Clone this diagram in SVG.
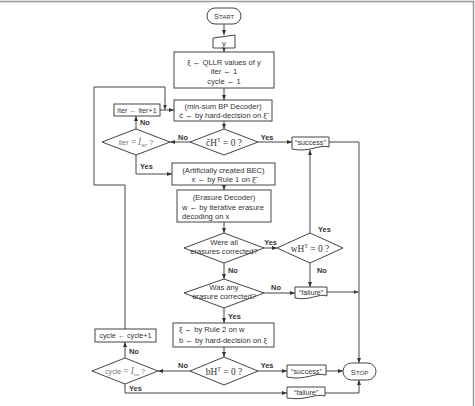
<svg xmlns="http://www.w3.org/2000/svg" width="475" height="406" viewBox="0 0 475 406">
<style>
.n{fill:#fff;stroke:#444;stroke-width:1}
.t{font-family:"Liberation Sans","DejaVu Sans",sans-serif;font-size:7.6px;fill:#333}
.s{font-size:7.2px}
.c{text-anchor:middle}
.m{font-family:"Liberation Serif","DejaVu Serif",serif;font-size:9.4px;fill:#333}
.l{font-family:"Liberation Sans","DejaVu Sans",sans-serif;font-size:7.4px;font-weight:bold;fill:#333}
.e{fill:none;stroke:#444;stroke-width:1}
.g{fill:#777}
</style>
<defs>
<marker id="a" viewBox="0 0 5 4" refX="5" refY="2" markerWidth="5" markerHeight="4" orient="auto" markerUnits="userSpaceOnUse"><path d="M0,0 L5,2 L0,4 Z" fill="#333"/></marker>
</defs>
<path d="M0,1.5 H473.5 V406" fill="none" stroke="#999" stroke-width="1.5"/>

<g id="connectors">
<path class="e" d="M224,24 V35" marker-end="url(#a)"/>
<path class="e" d="M224,48 V52" marker-end="url(#a)"/>
<path class="e" d="M224,88 V100" marker-end="url(#a)"/>
<path class="e" d="M224,121 V129" marker-end="url(#a)"/>
<path class="e" d="M190,142 H170" marker-end="url(#a)"/>
<path class="e" d="M258,142 H292" marker-end="url(#a)"/>
<path class="e" d="M136,129 V116" marker-end="url(#a)"/>
<path class="e" d="M160,110 H174" marker-end="url(#a)"/>
<path class="e" d="M125,329 V185 H94 V87 H165 V109.5" marker-end="url(#a)"/>
<path class="e" d="M136,155 V174 H172" marker-end="url(#a)"/>
<path class="e" d="M224,185 V190" marker-end="url(#a)"/>
<path class="e" d="M224,222 V233" marker-end="url(#a)"/>
<path class="e" d="M264,248 H277" marker-end="url(#a)"/>
<path class="e" d="M310,233 V150" marker-end="url(#a)"/>
<path class="e" d="M310,263 V287" marker-end="url(#a)"/>
<path class="e" d="M224,263 V279" marker-end="url(#a)"/>
<path class="e" d="M264,293 H295" marker-end="url(#a)"/>
<path class="e" d="M327,292 H358.5" marker-end="url(#a)"/>
<path class="e" d="M224,308 V323" marker-end="url(#a)"/>
<path class="e" d="M224,347 V357" marker-end="url(#a)"/>
<path class="e" d="M190,371 H158" marker-end="url(#a)"/>
<path class="e" d="M258,371 H287" marker-end="url(#a)"/>
<path class="e" d="M326,371 H343" marker-end="url(#a)"/>
<path class="e" d="M329,142 H359 V363" marker-end="url(#a)"/>
<path class="e" d="M125,358 V342" marker-end="url(#a)"/>
<path class="e" d="M125,384 V393 H287" marker-end="url(#a)"/>
<path class="e" d="M325,393 H359 V380" marker-end="url(#a)"/>
<text class="l c" x="183" y="139.5">No</text>
<text class="l c" x="267" y="139.5">Yes</text>
<text class="l" x="140" y="125">No</text>
<text class="l" x="140" y="169">Yes</text>
<text class="l c" x="270.5" y="245">Yes</text>
<text class="l" x="318" y="231.5">Yes</text>
<text class="l" x="317" y="273">No</text>
<text class="l" x="228" y="273">No</text>
<text class="l c" x="276" y="290">No</text>
<text class="l" x="228" y="318.5">Yes</text>
<text class="l c" x="183" y="368">No</text>
<text class="l c" x="267" y="368">Yes</text>
<text class="l" x="129" y="354">No</text>
<text class="l" x="129" y="391">Yes</text>
</g>

<g id="start">
<rect class="n" x="207" y="8" width="34" height="16" rx="8"/>
<text class="t c" x="224" y="19">S<tspan font-size="6">TART</tspan></text>
</g>
<g id="input">
<polygon class="n" points="213,38 235,35 235,48 213,48"/>
<text class="t c" x="224" y="45.5">y</text>
</g>
<g id="init">
<rect class="n" x="174" y="52" width="100" height="36"/>
<text class="t c" x="224" y="64.5">ξ ← QLLR values of y</text>
<text class="t c" x="224" y="74">iter ← 1</text>
<text class="t c" x="224" y="83.5">cycle ← 1</text>
</g>
<g id="bp">
<rect class="n" x="174" y="100" width="98" height="21"/>
<text class="t c" x="223" y="108.5">(min-sum BP Decoder)</text>
<text class="t c" x="223" y="118">ĉ ← by hard-decision on ξ̃</text>
</g>
<g id="chk1">
<polygon class="n" points="190,142 224,129 258,142 224,155"/>
<text class="m c" x="224" y="145.5">ĉH<tspan dy="-3.5" font-size="6">T</tspan><tspan dy="3.5"> = 0 ?</tspan></text>
</g>
<g id="iterchk">
<polygon class="n" points="102,142 136,129 170,142 136,155"/>
<text class="t s c g" x="136" y="145">iter <tspan class="m g" font-size="8">=</tspan> <tspan class="m g" font-style="italic" font-size="8">I</tspan><tspan font-family="Liberation Serif,serif" font-style="italic" font-size="5" dy="1.5">BP</tspan><tspan dy="-1.5"> ?</tspan></text>
</g>
<g id="iterinc">
<rect class="n" x="114" y="104" width="46" height="12"/>
<text class="t s c" x="137" y="112.7">iter ← iter+1</text>
</g>
<g id="success1">
<path class="n" d="M292,137 H329 V147 C318,144 310,153 292,149 Z"/>
<text class="t s c" x="310.5" y="145">“success”</text>
</g>
<g id="bec">
<rect class="n" x="172" y="163" width="103" height="22"/>
<text class="t c" x="223.5" y="172.7">(Artificially created BEC)</text>
<text class="t c" x="223.5" y="182">x ← by Rule 1 on ξ̃</text>
</g>
<g id="erasure">
<rect class="n" x="177" y="190" width="94" height="32"/>
<text class="t c" x="224" y="199.5">(Erasure Decoder)</text>
<text class="t" x="182" y="209.5">w ← by iterative erasure</text>
<text class="t" x="182" y="219">decoding on x</text>
</g>
<g id="allcorr">
<polygon class="n" points="184,248 224,233 264,248 224,263"/>
<text class="t c" x="224" y="245">Were all</text>
<text class="t c" x="224" y="253.5">erasures corrected?</text>
</g>
<g id="chkw">
<polygon class="n" points="277,248 310,233 343,248 310,263"/>
<text class="m c" x="310" y="251.5">wH<tspan dy="-3.5" font-size="6">T</tspan><tspan dy="3.5"> = 0 ?</tspan></text>
</g>
<g id="anycorr">
<polygon class="n" points="184,293 224,279 264,293 224,308"/>
<text class="t c" x="224" y="290">Was any</text>
<text class="t c" x="224" y="298.5">erasure corrected?</text>
</g>
<g id="failure1">
<path class="n" d="M295,287 H327 V296 C318,293 311,301 295,298 Z"/>
<text class="t s c" x="311" y="294.5">“failure”</text>
</g>
<g id="rule2">
<rect class="n" x="173" y="323" width="101" height="24"/>
<text class="t" x="179" y="332">ξ ← by Rule 2 on w</text>
<text class="t" x="179" y="343">b ← by hard-decision on ξ</text>
</g>
<g id="chkb">
<polygon class="n" points="190,371 224,357 258,371 224,385"/>
<text class="m c" x="224" y="374.5">bH<tspan dy="-3.5" font-size="6">T</tspan><tspan dy="3.5"> = 0 ?</tspan></text>
</g>
<g id="success2">
<path class="n" d="M287,365 H326 V375 C314,372 306,381 287,377 Z"/>
<text class="t s c" x="306.5" y="373.5">“success”</text>
</g>
<g id="stop">
<rect class="n" x="343" y="363" width="33" height="17" rx="8.5"/>
<text class="t c" x="359.5" y="374.5">S<tspan font-size="6">TOP</tspan></text>
</g>
<g id="cyclechk">
<polygon class="n" points="92,371 125,358 158,371 125,384"/>
<text class="t s c g" x="125" y="374">cycle <tspan class="m g" font-size="8">=</tspan> <tspan class="m g" font-style="italic" font-size="8">I</tspan><tspan font-family="Liberation Serif,serif" font-size="5" dy="1.5">tm</tspan><tspan dy="-1.5"> ?</tspan></text>
</g>
<g id="cycleinc">
<rect class="n" x="95" y="329" width="61" height="13"/>
<text class="t s c" x="125.5" y="338.3">cycle ← cycle+1</text>
</g>
<g id="failure2">
<path class="n" d="M287,387 H325 V396 C315,393 307,401 287,398 Z"/>
<text class="t s c" x="306" y="395">“failure”</text>
</g>
</svg>
